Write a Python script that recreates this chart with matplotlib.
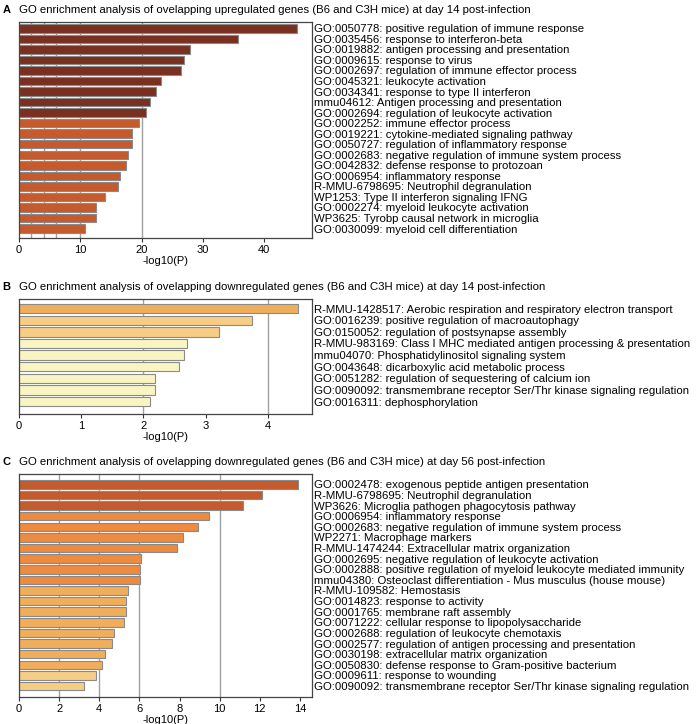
import matplotlib
matplotlib.use('Agg')
import matplotlib.pyplot as plt

plt.rcParams['font.family'] = ['Liberation Sans', 'DejaVu Sans']

# Panel A: upregulated genes, day 14
labels_a = [
    'GO:0050778: positive regulation of immune response',
    'GO:0035456: response to interferon-beta',
    'GO:0019882: antigen processing and presentation',
    'GO:0009615: response to virus',
    'GO:0002697: regulation of immune effector process',
    'GO:0045321: leukocyte activation',
    'GO:0034341: response to type II interferon',
    'mmu04612: Antigen processing and presentation',
    'GO:0002694: regulation of leukocyte activation',
    'GO:0002252: immune effector process',
    'GO:0019221: cytokine-mediated signaling pathway',
    'GO:0050727: regulation of inflammatory response',
    'GO:0002683: negative regulation of immune system process',
    'GO:0042832: defense response to protozoan',
    'GO:0006954: inflammatory response',
    'R-MMU-6798695: Neutrophil degranulation',
    'WP1253: Type II interferon signaling IFNG',
    'GO:0002274: myeloid leukocyte activation',
    'WP3625: Tyrobp causal network in microglia',
    'GO:0030099: myeloid cell differentiation',
]
values_a = [45.4, 35.7, 27.9, 26.9, 26.4, 23.2, 22.4, 21.4, 20.7, 19.5,
            18.5, 18.4, 17.8, 17.5, 16.4, 16.2, 14.0, 12.6, 12.5, 10.8]
colors_a = ['#7a3020'] * 9 + ['#c65a2c'] * 11

# Panel B: downregulated genes, day 14
labels_b = [
    'R-MMU-1428517: Aerobic respiration and respiratory electron transport',
    'GO:0016239: positive regulation of macroautophagy',
    'GO:0150052: regulation of postsynapse assembly',
    'R-MMU-983169: Class I MHC mediated antigen processing & presentation',
    'mmu04070: Phosphatidylinositol signaling system',
    'GO:0043648: dicarboxylic acid metabolic process',
    'GO:0051282: regulation of sequestering of calcium ion',
    'GO:0090092: transmembrane receptor Ser/Thr kinase signaling regulation',
    'GO:0016311: dephosphorylation',
]
values_b = [4.48, 3.75, 3.21, 2.70, 2.66, 2.58, 2.19, 2.18, 2.11]
colors_b = ['#f0ad5a'] + ['#f7cc85'] * 2 + ['#f8f5c3'] * 6

# Panel C: downregulated genes, day 56
labels_c = [
    'GO:0002478: exogenous peptide antigen presentation',
    'R-MMU-6798695: Neutrophil degranulation',
    'WP3626: Microglia pathogen phagocytosis pathway',
    'GO:0006954: inflammatory response',
    'GO:0002683: negative regulation of immune system process',
    'WP2271: Macrophage markers',
    'R-MMU-1474244: Extracellular matrix organization',
    'GO:0002695: negative regulation of leukocyte activation',
    'GO:0002888: positive regulation of myeloid leukocyte mediated immunity',
    'mmu04380: Osteoclast differentiation - Mus musculus (house mouse)',
    'R-MMU-109582: Hemostasis',
    'GO:0014823: response to activity',
    'GO:0001765: membrane raft assembly',
    'GO:0071222: cellular response to lipopolysaccharide',
    'GO:0002688: regulation of leukocyte chemotaxis',
    'GO:0002577: regulation of antigen processing and presentation',
    'GO:0030198: extracellular matrix organization',
    'GO:0050830: defense response to Gram-positive bacterium',
    'GO:0009611: response to wounding',
    'GO:0090092: transmembrane receptor Ser/Thr kinase signaling regulation',
]
values_c = [13.92, 12.09, 11.15, 9.46, 8.91, 8.19, 7.87, 6.08, 6.03, 6.03,
            5.41, 5.34, 5.31, 5.21, 4.73, 4.63, 4.31, 4.13, 3.85, 3.25]
colors_c = ['#c55a2c'] * 3 + ['#ef8b3e'] * 7 + ['#f0ad5a'] * 8 + ['#f6cd85'] * 2

W, H = 696, 724


def px_axes(fig, left, top, right, bottom):
    return fig.add_axes([left / W, 1 - bottom / H, (right - left) / W, (bottom - top) / H])


def draw_panel(ax, letter, title, labels, values, colors, xmax, xticks, grid,
               top_pad, bot_pad):
    n = len(values)
    ypos = list(range(n - 1, -1, -1))
    for g in grid:
        ax.axvline(g, color='#a0a0a0', lw=1.0, zorder=0)
    ax.barh(ypos, values, height=0.8, color=colors, edgecolor='#8a8a8a',
            linewidth=0.8, zorder=2)
    ax.set_xlim(0, xmax)
    ax.set_ylim(-0.4 - bot_pad, n - 1 + 0.4 + top_pad)
    ax.set_xticks(xticks)
    ax.set_xticklabels([str(t) for t in xticks], fontsize=8)
    ax.tick_params(axis='x', direction='out', length=3, width=0.8, pad=2,
                   color='#333333')
    ax.yaxis.tick_right()
    ax.set_yticks(ypos)
    ax.set_yticklabels(labels, fontsize=8.2)
    ax.tick_params(axis='y', length=0, pad=1.5)
    for s in ax.spines.values():
        s.set_color('#444444')
        s.set_linewidth(0.9)
    ax.set_xlabel('-log10(P)', fontsize=8, labelpad=1)
    ax.annotate(letter, xy=(0, 1), xycoords='axes fraction',
                xytext=(-12, 5), textcoords='offset points',
                fontsize=8, fontweight='bold', va='bottom', ha='left')
    ax.annotate(title, xy=(0, 1), xycoords='axes fraction',
                xytext=(0, 5), textcoords='offset points',
                fontsize=8.2, va='bottom', ha='left')


def main():
    fig = plt.figure(figsize=(W / 100, H / 100), dpi=100)

    ax_a = px_axes(fig, 19, 22, 312, 238)
    draw_panel(ax_a, 'A',
               'GO enrichment analysis of ovelapping upregulated genes (B6 and C3H mice) at day 14 post-infection',
               labels_a, values_a, colors_a, 47.8, [0, 10, 20, 30, 40],
               [2, 4, 6, 10, 20], 0.2, 0.5)

    ax_b = px_axes(fig, 19, 299, 312, 414)
    draw_panel(ax_b, 'B',
               'GO enrichment analysis of ovelapping downregulated genes (B6 and C3H mice) at day 14 post-infection',
               labels_b, values_b, colors_b, 4.71, [0, 1, 2, 3, 4],
               [2, 4], 0.43, 0.67)

    ax_c = px_axes(fig, 19, 474, 312, 697)
    draw_panel(ax_c, 'C',
               'GO enrichment analysis of ovelapping downregulated genes (B6 and C3H mice) at day 56 post-infection',
               labels_c, values_c, colors_c, 14.6, [0, 2, 4, 6, 8, 10, 12, 14],
               [2, 4, 6, 10], 0.57, 0.63)

    fig.savefig('out.png', dpi=100)


if __name__ == '__main__':
    main()
